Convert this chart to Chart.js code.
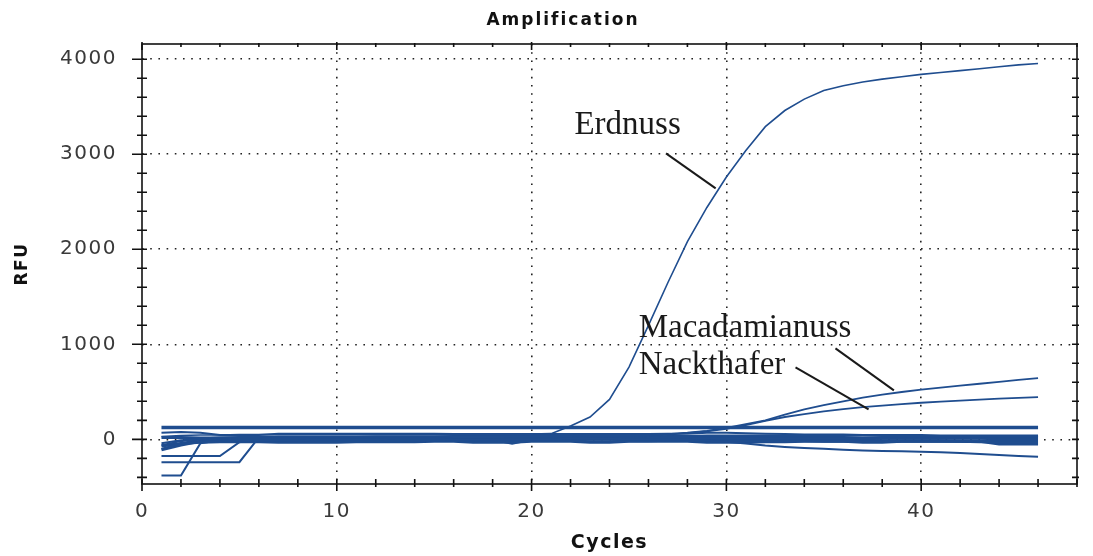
<!DOCTYPE html>
<html>
<head>
<meta charset="utf-8">
<script src="https://cdn.jsdelivr.net/npm/chart.js@4.4.0/dist/chart.umd.min.js"></script>
<style>
html, body { margin: 0; padding: 0; background: #fff; }
</style>
</head>
<body>
<canvas id="ampChart" width="1093" height="556"></canvas>
<script>
// data
const cycles = [1,2,3,4,5,6,7,8,9,10,11,12,13,14,15,16,17,18,19,20,21,22,23,24,25,26,27,28,29,30,31,32,33,34,35,36,37,38,39,40,41,42,43,44,45,46];

// tick positions (labelled ones are multiples of 10 / 1000)
const xTickValues = [0,2,4,6,8,10,12,14,16,18,20,22,24,26,28,30,32,34,36,38,40,42,44,46,48];
const yTickValues = [-400,-200,0,200,400,600,800,1000,1200,1400,1600,1800,2000,2200,2400,2600,2800,3000,3200,3400,3600,3800,4000];

const erdnuss = [
  30,40,45,45,50,50,50,50,50,50,
  50,50,50,50,50,50,50,50,50,55,
  60,140,235,420,760,1200,1650,2080,2440,2760,
  3040,3290,3460,3580,3670,3720,3760,3790,3815,3840,
  3860,3880,3900,3920,3940,3955
];
const macadamia = [
  -60,-20,10,20,25,25,30,30,30,30,
  30,30,30,30,30,35,35,35,35,35,
  35,35,40,40,40,45,55,70,90,120,
  160,200,260,315,360,400,440,470,498,523,
  545,565,585,605,625,645
];
const nackthafer = [
  -100,-40,0,10,15,15,20,20,20,20,
  20,20,20,20,20,20,20,20,25,25,
  25,25,25,30,30,35,50,65,85,110,
  150,195,235,265,295,318,338,355,370,385,
  397,408,418,428,437,445
];
const flatHigh = [
  125,125,125,125,125,125,125,125,125,125,
  125,125,125,125,125,125,125,125,125,125,
  125,125,125,125,125,125,125,125,125,125,
  125,125,125,125,125,125,125,125,125,125,
  125,125,125,125,125,125
];
const drifting = [
  -40,-10,0,0,5,5,5,5,0,0,
  0,0,5,5,5,0,0,0,0,0,
  0,5,5,5,0,0,0,-5,-15,-25,
  -45,-65,-80,-92,-100,-110,-118,-122,-126,-130,
  -137,-145,-155,-165,-175,-182
];
const lowA = [
  -380,-380,-40,-10,-10,-10,-10,-10,-15,-15,
  -15,-15,-15,-15,-10,-10,-10,-10,-15,-15,
  -15,-15,-20,-20,-20,-20,-15,-15,-15,-20,
  -20,-20,-20,-20,-25,-25,-25,-25,-25,-25,
  -25,-25,-30,-30,-30,-30
];
const lowB = [
  -175,-175,-175,-175,-30,10,10,10,10,10,
  10,10,15,15,15,15,10,10,10,10,
  10,10,10,10,15,15,15,15,10,10,
  10,10,10,10,10,10,5,5,5,5,
  5,5,5,0,0,0
];
const lowC = [
  -240,-240,-240,-240,-240,20,25,25,25,25,
  25,30,30,30,30,30,35,35,35,35,
  35,35,30,30,30,30,35,35,40,40,
  40,40,40,40,40,40,40,35,35,35,
  35,35,30,30,30,30
];
const baseTop = [
  70,78,70,45,45,45,60,60,60,60,
  60,60,60,60,60,55,55,55,55,55,
  55,55,55,55,55,55,60,60,70,70,
  65,60,55,50,50,50,45,45,45,45,
  40,40,40,40,40,40
];
const baseMid = [
  -110,-60,-20,-10,-5,-5,-5,0,0,0,
  0,0,0,-5,-5,-5,-5,0,-40,0,
  0,0,0,0,-5,-5,-5,-5,-10,-10,
  -10,-10,-10,-10,-10,-10,-10,-15,-15,-15,
  -15,-20,-20,-50,-50,-50
];
const baseLow = [
  -70,-45,-30,-25,-25,-25,-30,-30,-30,-30,
  -25,-25,-25,-25,-20,-20,-30,-30,-30,-20,
  -20,-20,-30,-30,-20,-20,-20,-20,-30,-30,
  -30,-25,-25,-20,-20,-20,-30,-30,-20,-20,
  -20,-20,-20,-20,-20,-20
];
const baseUp = [
  20,20,15,15,15,15,20,20,20,20,
  15,15,15,15,15,15,20,20,20,20,
  20,20,15,15,15,15,20,20,25,25,
  20,20,20,20,20,20,15,15,15,15,
  15,15,15,15,20,20
];

// annotations: text start and leader line ends, in (cycle, RFU)
const noteTexts = ['Erdnuss', 'Macadamianuss', 'Nackthafer'];
const noteAt = [[22.2, 3210], [25.5, 1073], [25.5, 684]];
const leaderFrom = [[26.9, 3009], [35.6, 957], [33.55, 758]];
const leaderTo = [[29.45, 2641], [38.6, 515], [37.3, 316]];

const lineBlue = '#1f4d8f';

function toPoints(vals) {
  return vals.map((v, i) => ({x: cycles[i], y: v}));
}
function series(name, vals, width) {
  return {
    label: name,
    data: toPoints(vals),
    borderColor: lineBlue,
    backgroundColor: lineBlue,
    borderWidth: width,
    pointRadius: 0,
    tension: 0,
    fill: false
  };
}

const letterSpacer = {
  id: 'letterSpacer',
  beforeDraw(chart) {
    chart.ctx.letterSpacing = '1.5px';
  }
};

// box, tick marks, title, annotations
const frameAndNotes = {
  id: 'frameAndNotes',
  afterDraw(chart) {
    const {ctx, chartArea: {left, right, top, bottom}, scales: {x, y}} = chart;
    ctx.save();
    ctx.strokeStyle = '#111';
    ctx.lineWidth = 1.6;
    ctx.strokeRect(left, top, right - left, bottom - top);
    ctx.beginPath();
    xTickValues.forEach(v => {
      const px = x.getPixelForValue(v);
      const major = v % 10 === 0;
      ctx.moveTo(px, bottom - 5);
      ctx.lineTo(px, bottom + (major ? 7 : 3));
      ctx.moveTo(px, top - (major ? 2 : 1));
      ctx.lineTo(px, top + (major ? 6 : 3));
    });
    yTickValues.forEach(v => {
      const py = y.getPixelForValue(v);
      const major = v % 1000 === 0;
      ctx.moveTo(left - (major ? 10 : 5), py);
      ctx.lineTo(left + 5, py);
      ctx.moveTo(right - 5, py);
      ctx.lineTo(right + 2, py);
    });
    ctx.stroke();

    // chart title
    ctx.letterSpacing = '2px';
    ctx.fillStyle = '#111';
    ctx.font = 'bold 17px "DejaVu Sans"';
    ctx.textAlign = 'center';
    ctx.textBaseline = 'middle';
    ctx.fillText('Amplification', 563, 21);

    // annotations
    ctx.letterSpacing = '0px';
    ctx.font = '33px "Liberation Serif"';
    ctx.textAlign = 'left';
    ctx.textBaseline = 'alphabetic';
    ctx.fillStyle = '#1a1a1a';
    ctx.strokeStyle = '#1a1a1a';
    ctx.lineWidth = 2;
    noteTexts.forEach((txt, i) => {
      ctx.fillText(txt, x.getPixelForValue(noteAt[i][0]), y.getPixelForValue(noteAt[i][1]));
      ctx.beginPath();
      ctx.moveTo(x.getPixelForValue(leaderFrom[i][0]), y.getPixelForValue(leaderFrom[i][1]));
      ctx.lineTo(x.getPixelForValue(leaderTo[i][0]), y.getPixelForValue(leaderTo[i][1]));
      ctx.stroke();
    });
    ctx.restore();
  }
};

const tickFont = {family: 'DejaVu Sans', size: 20};

const config = {
  type: 'line',
  data: {
    datasets: [
      series('Erdnuss', erdnuss, 1.6),
      series('Macadamianuss', macadamia, 1.8),
      series('Nackthafer', nackthafer, 1.8),
      series('Schwelle', flatHigh, 3.5),
      series('Probe 5', drifting, 2),
      series('Probe 6', lowA, 2),
      series('Probe 7', lowB, 2),
      series('Probe 8', lowC, 2),
      series('Probe 9', baseTop, 2),
      series('Probe 10', baseMid, 3),
      series('Probe 11', baseLow, 3),
      series('Probe 12', baseUp, 3)
    ]
  },
  options: {
    responsive: false,
    animation: false,
    layout: {padding: {top: 44, right: 0, left: 0, bottom: 0}},
    plugins: {
      legend: {display: false},
      tooltip: {enabled: false},
      title: {display: false}
    },
    scales: {
      x: {
        type: 'linear',
        min: 0,
        max: 48,
        afterFit(scale) { scale.height = 72; },
        afterBuildTicks(scale) {
          scale.ticks = xTickValues.map(v => ({value: v}));
        },
        border: {display: false, dash: [1.6, 6.6]},
        grid: {
          drawTicks: false,
          lineWidth: 1.6,
          color: c => (c.tick && c.tick.value % 10 === 0 && c.tick.value > 0 && c.tick.value < 48) ? '#222' : 'rgba(0,0,0,0)'
        },
        ticks: {
          autoSkip: false,
          maxRotation: 0,
          padding: 16,
          color: '#3a3a3a',
          font: tickFont,
          callback: v => (v % 10 === 0 && v < 48) ? String(v) : ''
        },
        title: {
          display: true,
          text: 'Cycles',
          color: '#111',
          font: {family: 'DejaVu Sans', size: 19, weight: 'bold'},
          padding: {top: 0, bottom: 2}
        }
      },
      y: {
        min: -470,
        max: 4160,
        afterFit(scale) { scale.width = 142; },
        afterBuildTicks(scale) {
          scale.ticks = yTickValues.map(v => ({value: v}));
        },
        border: {display: false, dash: [1.6, 6.6]},
        grid: {
          drawTicks: false,
          lineWidth: 1.6,
          color: c => (c.tick && c.tick.value % 1000 === 0) ? '#222' : 'rgba(0,0,0,0)'
        },
        ticks: {
          autoSkip: false,
          padding: 25,
          color: '#3a3a3a',
          font: tickFont,
          callback: v => (v % 1000 === 0) ? String(v) : ''
        },
        title: {
          display: true,
          text: 'RFU',
          color: '#111',
          font: {family: 'DejaVu Sans', size: 17, weight: 'bold'},
          padding: {top: 12, bottom: 0}
        }
      }
    }
  },
  plugins: [letterSpacer, frameAndNotes]
};

const ampChart = new Chart(document.getElementById('ampChart'), config);
</script>
</body>
</html>
